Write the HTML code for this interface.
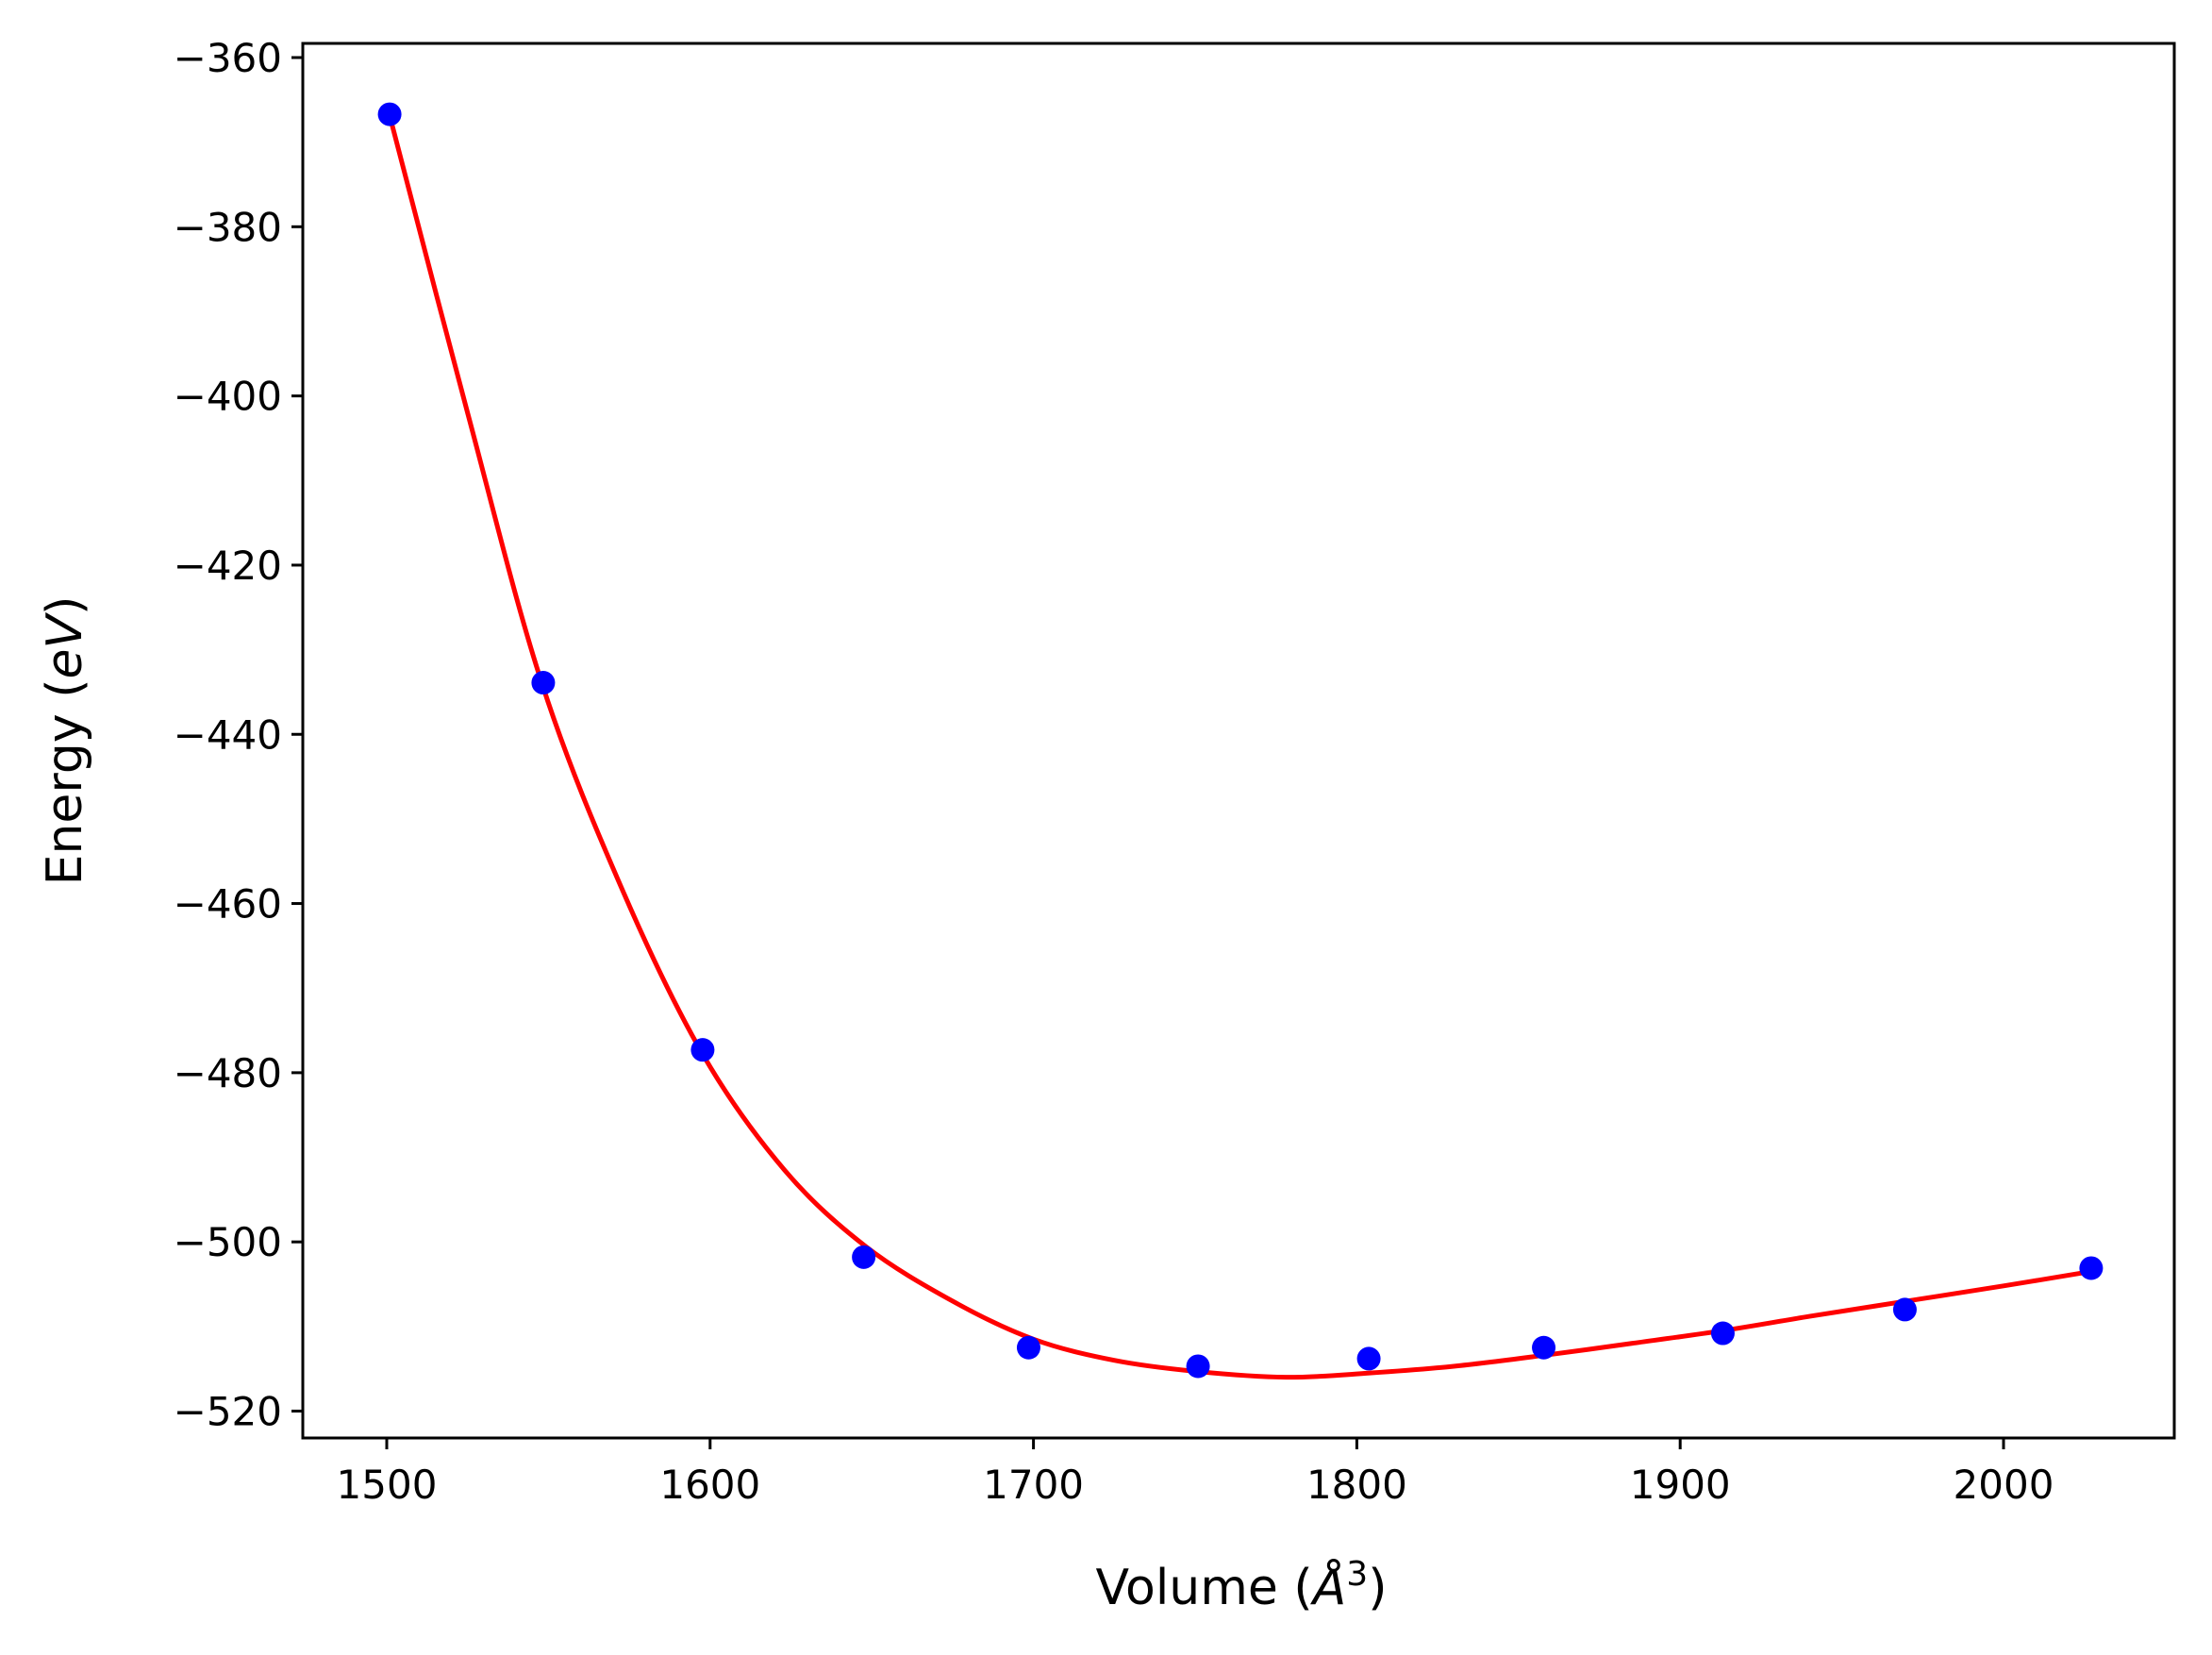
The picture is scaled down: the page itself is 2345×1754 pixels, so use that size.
<!DOCTYPE html>
<html><head><meta charset="utf-8"><style>html,body{margin:0;padding:0;background:#fff}svg{display:block}</style></head>
<body>
<svg id="chart" width="2345" height="1754" viewBox="0 0 2345 1754" xmlns="http://www.w3.org/2000/svg" font-family="DejaVu Sans, Liberation Sans, sans-serif">
<rect width="2345" height="1754" fill="#fff"/>
<g id="plot"></g>
<text x="1316" y="1700" font-size="52" text-anchor="middle">Volume (<tspan font-style="italic">Å</tspan><tspan font-size="36" dy="-20">3</tspan><tspan dy="20">)</tspan></text>
<text transform="translate(86,785) rotate(-90)" font-size="52" text-anchor="middle">Energy (<tspan font-style="italic">eV</tspan>)</text>
</svg>
<script>
const xTicks = [1500, 1600, 1700, 1800, 1900, 2000];
const yTicks = [-360, -380, -400, -420, -440, -460, -480, -500, -520];
const volumes = [1500.9, 1548.4, 1597.7, 1647.5, 1698.5, 1750.9, 1803.7, 1857.8, 1913.2, 1969.5, 2027.1];
const energies = [-366.7, -433.9, -477.3, -501.8, -512.5, -514.7, -513.8, -512.5, -510.8, -508.0, -503.1];
const fitV = [1501, 1525, 1548, 1573, 1598, 1623, 1648, 1675, 1700, 1725, 1750, 1778, 1804, 1830, 1858, 1885, 1913, 1940, 1970, 2000, 2027];
const fitE = [-367, -402, -434, -458.5, -478, -491.5, -500.5, -507, -511.5, -514, -515.3, -516, -515.5, -514.7, -513.4, -512, -510.5, -508.8, -507, -505.2, -503.5];

const L=321, R=2305, T=46, B=1524;
const xs = v => 410 + (v-1500)*(2124-410)/500;
const ys = e => 61 + (-360-e)*(1495.5-61)/160;
const NS='http://www.w3.org/2000/svg';
const g=document.getElementById('plot');
function mk(tag, attrs){const el=document.createElementNS(NS,tag);for(const k in attrs)el.setAttribute(k,attrs[k]);g.appendChild(el);return el;}

// fit curve (catmull-rom)
const pts=fitV.map((v,i)=>[xs(v),ys(fitE[i])]);
let d='M'+pts[0][0]+','+pts[0][1];
for(let i=0;i<pts.length-1;i++){
  const p0=pts[Math.max(0,i-1)],p1=pts[i],p2=pts[i+1],p3=pts[Math.min(pts.length-1,i+2)];
  const c1=[p1[0]+(p2[0]-p0[0])/6,p1[1]+(p2[1]-p0[1])/6];
  const c2=[p2[0]-(p3[0]-p1[0])/6,p2[1]-(p3[1]-p1[1])/6];
  d+=' C'+c1[0]+','+c1[1]+' '+c2[0]+','+c2[1]+' '+p2[0]+','+p2[1];
}
const curve=mk('path',{d:d,fill:'none',stroke:'#ff0000','stroke-width':5});



volumes.forEach((v,i)=>{
  const c=mk('circle',{cx:xs(v),cy:ys(energies[i]),r:12.5,fill:'#0000ff'});
  
  
});

const frame=mk('rect',{x:L,y:T,width:R-L,height:B-T,fill:'none',stroke:'#000','stroke-width':3});



xTicks.forEach(t=>{
  const x=xs(t);
  const tk=mk('line',{x1:x,y1:B,x2:x,y2:B+12,stroke:'#000','stroke-width':3});
  
  
  const tx=mk('text',{x:x,y:1588,'font-size':42,'text-anchor':'middle'});
  tx.textContent=String(t);
  
  
});
yTicks.forEach(t=>{
  const y=ys(t);
  const tk=mk('line',{x1:L-12,y1:y,x2:L,y2:y,stroke:'#000','stroke-width':3});
  
  
  const tx=mk('text',{x:L-22,y:y+15,'font-size':42,'text-anchor':'end'});
  tx.textContent='\u2212'+Math.abs(t);
  
  
});
</script>
</body></html>
